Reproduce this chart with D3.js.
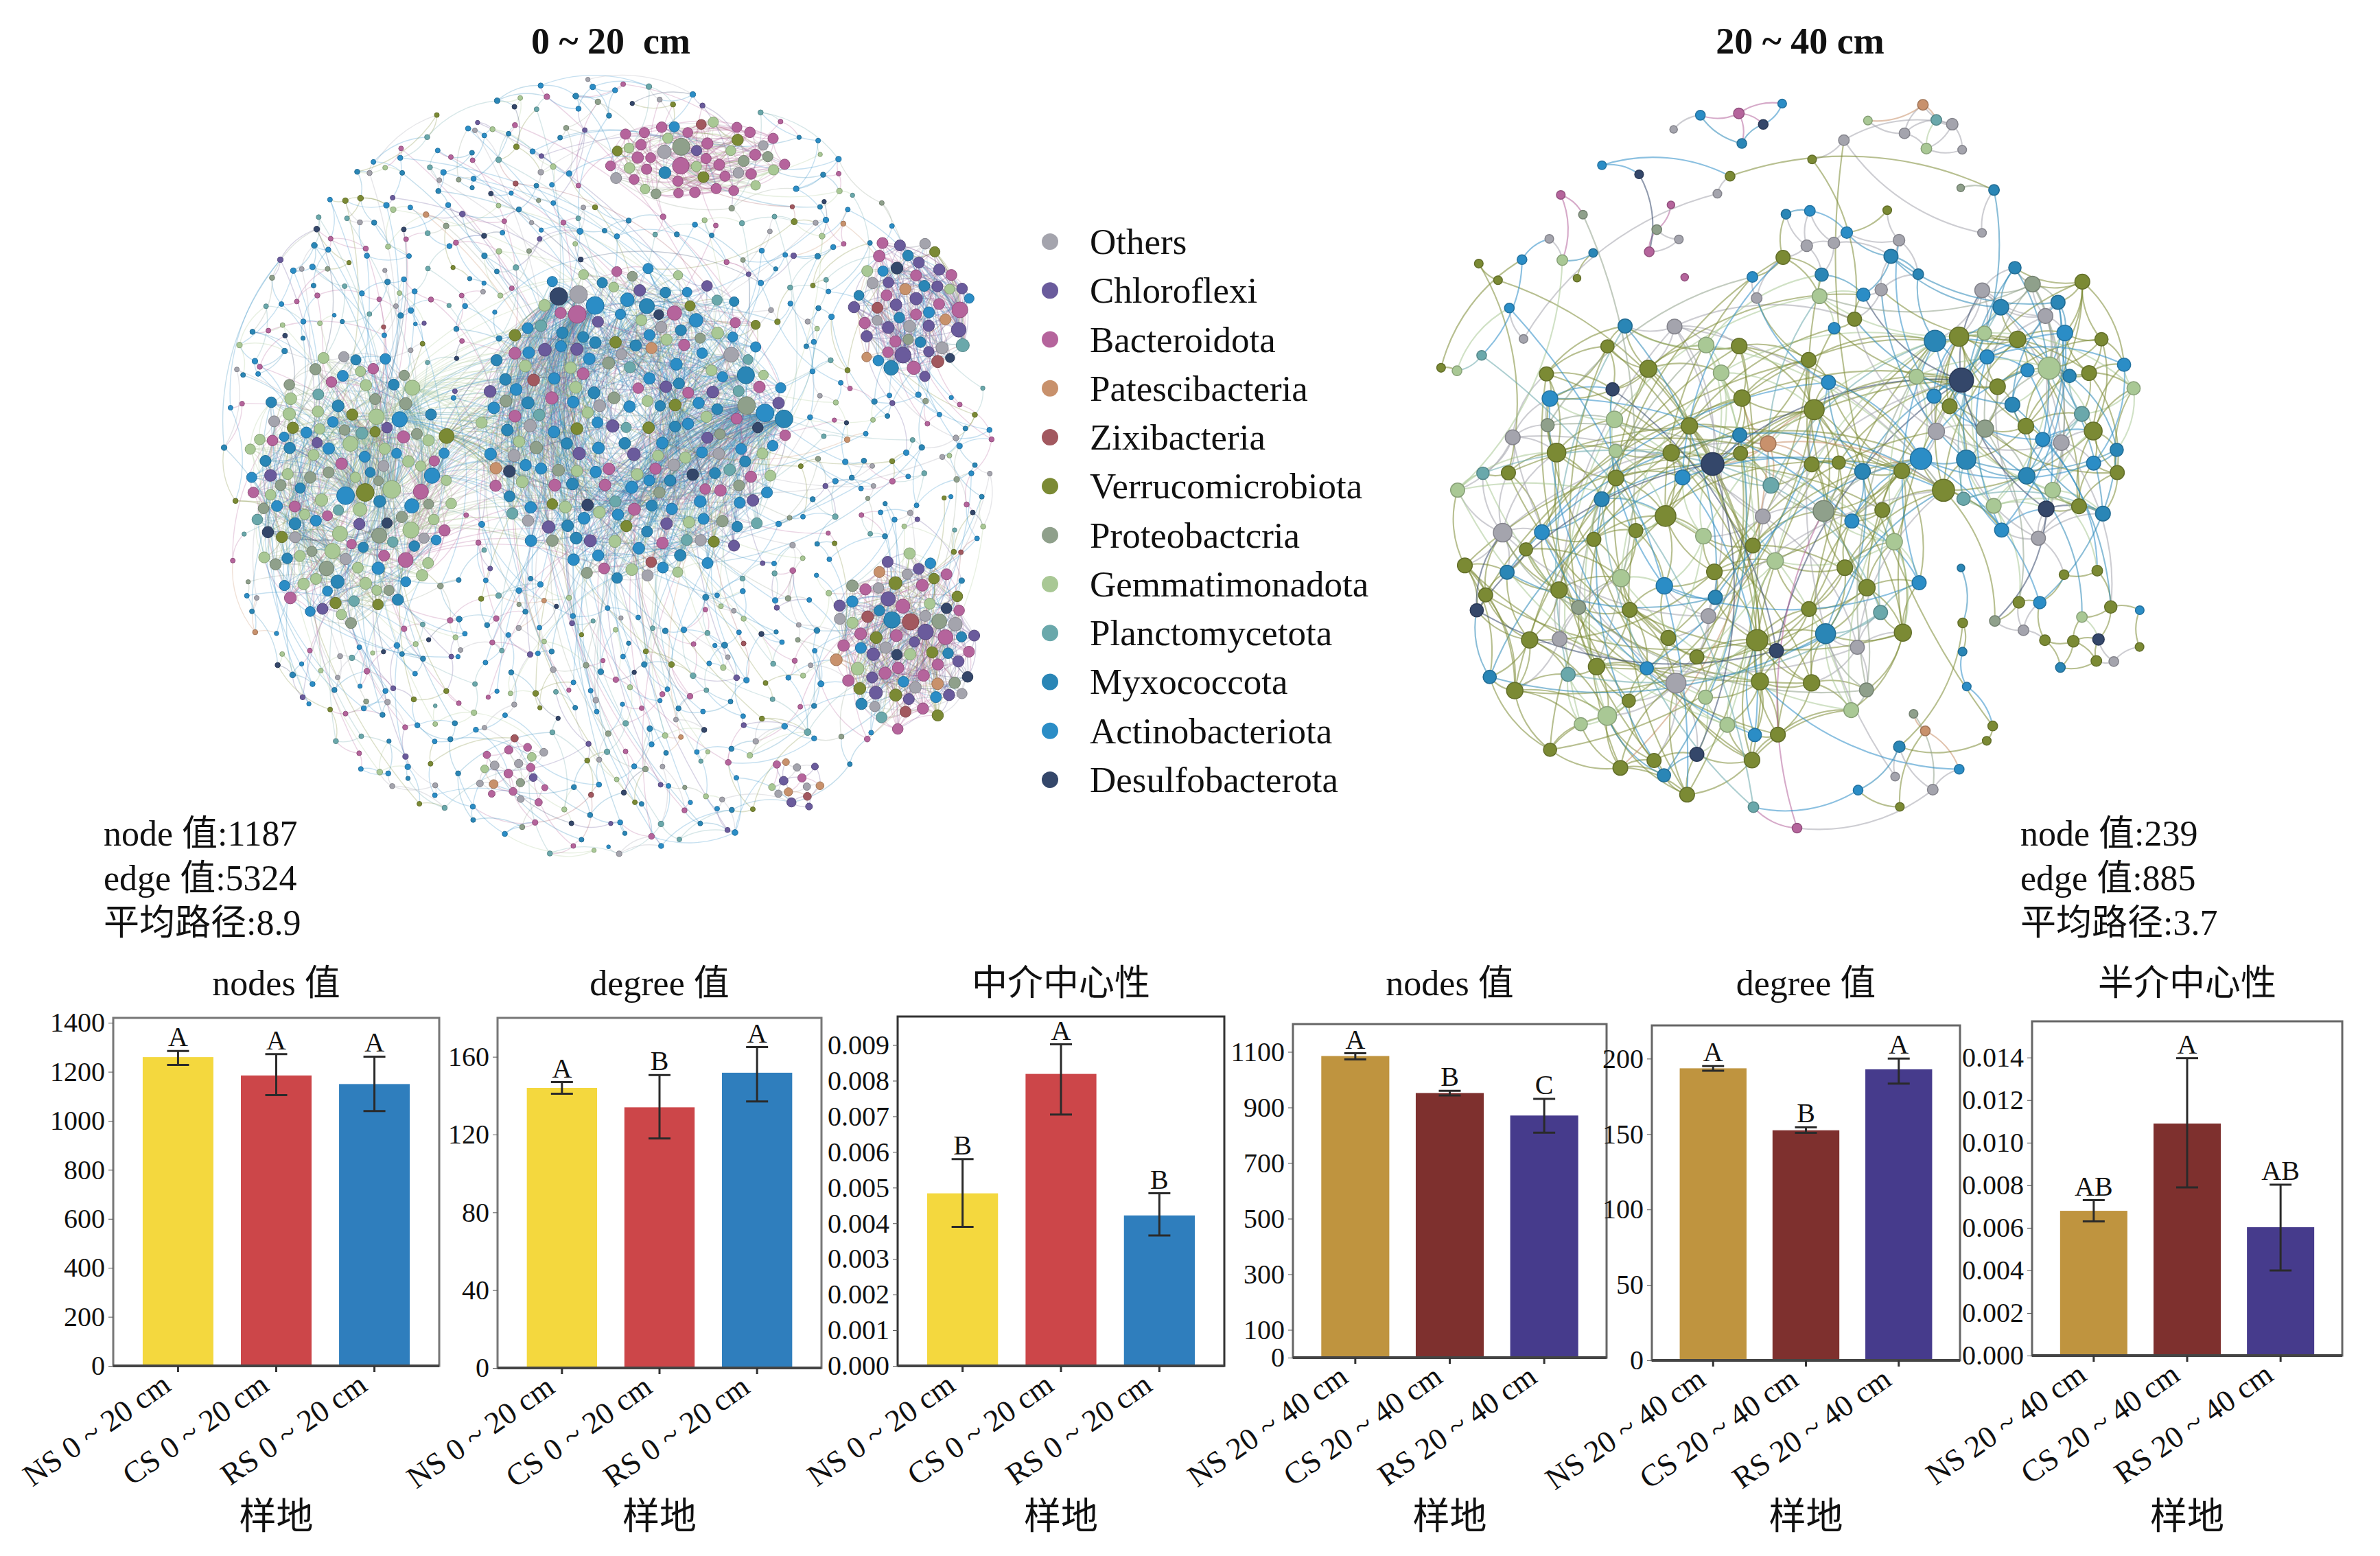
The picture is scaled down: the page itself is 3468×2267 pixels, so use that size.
<!DOCTYPE html>
<html lang="zh">
<head>
<meta charset="utf-8">
<title>0~20 cm / 20~40 cm co-occurrence networks</title>
<script src="https://cdn.jsdelivr.net/npm/d3@7/dist/d3.min.js"></script>
<style>
  html, body { margin: 0; padding: 0; background: #fff; }
  svg { display: block; }
  text { font-family: "Liberation Serif", "Noto Sans CJK SC", serif; fill: #111; }
</style>
</head>
<body>
<svg id="fig" width="3468" height="2267" viewBox="0 0 3468 2267"></svg>
<script>
// ---------------- data ----------------
const phyla = ["Others", "Chloroflexi", "Bacteroidota", "Patescibacteria", "Zixibacteria",
  "Verrucomicrobiota", "Proteobactcria", "Gemmatimonadota", "Planctomycetota",
  "Myxococcota", "Actinobacteriota", "Desulfobacterota"];

// network 0 ~ 20 cm : node counts per phylum (legend order) in each module
const statsTop = [1187, 5324, 8.9];
const modulesTop = ["M1", "M2", "M3", "M4", "M5", "M6", "M7", "other"];
const moduleCountsTop = [
  [6, 5, 15, 0, 0, 8, 20, 40, 6, 16, 22, 2],
  [12, 18, 26, 2, 2, 10, 14, 30, 12, 34, 54, 6],
  [4, 1, 26, 0, 1, 3, 4, 9, 0, 1, 1, 0],
  [5, 16, 12, 3, 2, 1, 1, 2, 1, 6, 4, 2],
  [9, 13, 17, 3, 3, 8, 3, 5, 1, 5, 5, 3],
  [5, 1, 9, 1, 1, 0, 1, 2, 0, 0, 0, 0],
  [3, 4, 2, 3, 1, 0, 0, 1, 0, 0, 0, 0],
  [50, 30, 70, 6, 6, 36, 28, 50, 60, 95, 160, 22]
];
const moduleEdgesTop = [950, 1600, 300, 380, 560, 40, 30];
const bridgesTop = [["M1", "M2", 150]];

// network 20 ~ 40 cm
const statsBottom = [239, 885, 3.7];
const modulesBottom = ["A", "B", "C", "D", "E", "F", "G", "other"];
const moduleCountsBottom = [
  [8, 0, 0, 1, 0, 46, 4, 14, 4, 9, 9, 5],
  [5, 0, 0, 0, 0, 12, 2, 6, 2, 10, 9, 2],
  [5, 0, 0, 0, 0, 3, 0, 1, 0, 4, 5, 0],
  [2, 0, 0, 0, 0, 8, 1, 1, 0, 1, 2, 1],
  [3, 0, 0, 1, 0, 0, 0, 2, 1, 0, 0, 0],
  [1, 0, 1, 0, 0, 0, 0, 0, 0, 1, 2, 1],
  [1, 0, 3, 0, 0, 0, 1, 0, 0, 0, 0, 0],
  [7, 0, 2, 1, 0, 10, 3, 2, 2, 5, 6, 1]
];
const moduleEdgesBottom = [450, 210, 36, 26, 12, 8, 4];
const bridgesBottom = [["A", "B", 45], ["A", "C", 14], ["B", "C", 12], ["B", "D", 12]];

// bar panels
const sites = ["NS", "CS", "RS"];
const depths = ["0 ~ 20 cm", "20 ~ 40 cm"];

const nodes020 = [1260, 1185, 1150];
const nodes020Err = [[1228, 1285], [1105, 1272], [1040, 1262]];
const nodes020Sig = ["A", "A", "A"];
const ticksNodes020 = [0, 200, 400, 600, 800, 1000, 1200, 1400];

const degree020 = [144, 134, 151.8];
const degree020Err = [[141, 147], [118, 150.6], [137, 165]];
const degree020Sig = ["A", "B", "A"];
const ticksDegree020 = [0, 40, 80, 120, 160];

const betw020 = [0.00484, 0.00819, 0.00422];
const betw020Err = [[0.0039, 0.0058], [0.00705, 0.00902], [0.00366, 0.00484]];
const betw020Sig = ["B", "A", "B"];
const ticksBetw020 = [0, 0.001, 0.002, 0.003, 0.004, 0.005, 0.006, 0.007, 0.008, 0.009];

const nodes2040 = [1085, 952, 871];
const nodes2040Err = [[1073, 1095], [943, 960], [809, 931]];
const nodes2040Sig = ["A", "B", "C"];
const ticksNodes2040 = [0, 100, 300, 500, 700, 900, 1100];

const degree2040 = [193.6, 152.5, 192.9];
const degree2040Err = [[192, 195], [150.8, 154.5], [183.4, 200]];
const degree2040Sig = ["A", "B", "A"];
const ticksDegree2040 = [0, 50, 100, 150, 200];

const betw2040 = [0.0068, 0.0109, 0.00603];
const betw2040Err = [[0.0063, 0.0073], [0.0079, 0.01397], [0.004, 0.00803]];
const betw2040Sig = ["AB", "A", "AB"];
const ticksBetw2040 = [0, 0.002, 0.004, 0.006, 0.008, 0.010, 0.012, 0.014];

// ---------------- styles / layout ----------------
const phylumColors = ["#a4a4ad", "#6a5b9c", "#b5649c", "#c8916c", "#a2585f", "#7b8a34",
  "#8fa08b", "#a9c895", "#6aa8ab", "#2a86b6", "#2b8dc6", "#34476a"];
const barColors = [["#f4d83e", "#cc4649", "#2f7ebd"], ["#bf943f", "#7e302e", "#463b8c"]];

// module ellipses [cx, cy, rx, ry] as fractions of the network radius
const shapesTop = {
  M1: [-0.647, 0.053, 0.27, 0.36], M2: [0.071, -0.107, 0.40, 0.42],
  M3: [0.217, -0.772, 0.245, 0.105], M4: [0.762, -0.398, 0.155, 0.186],
  M5: [0.747, 0.438, 0.186, 0.233], M6: [-0.228, 0.769, 0.107, 0.095],
  M7: [0.481, 0.795, 0.086, 0.069]
};
const shapesBottom = {
  A: [-0.267, 0.238, 0.656, 0.67], B: [0.642, -0.17, 0.33, 0.40],
  C: [0.124, -0.54, 0.25, 0.22], D: [0.76, 0.42, 0.22, 0.17],
  E: [0.349, -0.891, 0.167, 0.1], F: [-0.135, -0.916, 0.19, 0.09],
  G: [-0.3, -0.62, 0.1, 0.14]
};

const svg = d3.select("#fig");
svg.append("rect").attr("width", 3468).attr("height", 2267).attr("fill", "#fff");

// ---------------- network builder ----------------
function halton(i, b) {
  let f = 1, r = 0;
  while (i > 0) { f /= b; r += f * (i % b); i = Math.floor(i / b); }
  return r;
}

function buildNetwork(cfg) {
  const nodes = [], links = [], seen = new Set(), groups = {};
  const names = cfg.names, mods = names.filter(n => n !== "other");
  const X = u => cfg.cx + cfg.R * u, Y = v => cfg.cy + cfg.R * v;
  const dist = (a, b) => Math.hypot(nodes[a].hx - nodes[b].hx, nodes[a].hy - nodes[b].hy);
  const addLink = (a, b, local) => {
    if (a == null || b == null || a === b) return false;
    const key = Math.min(a, b) * 100000 + Math.max(a, b);
    if (seen.has(key)) return false;
    seen.add(key);
    links.push({ source: a, target: b, local: local, len: dist(a, b) });
    return true;
  };
  const ellDist = (u, v, n) => {
    const s = cfg.shapes[n];
    return Math.hypot((u - s[0]) / s[2], (v - s[1]) / s[3]);
  };
  const insideAny = (u, v) => mods.some(n => {
    const s = cfg.shapes[n];
    const dx = (u - s[0]) / (s[2] + cfg.margin), dy = (v - s[1]) / (s[3] + cfg.margin);
    return dx * dx + dy * dy < 1;
  });

  // place nodes
  names.forEach((name, m) => {
    const list = [];
    cfg.counts[m].forEach((c, p) => { for (let k = 0; k < c; k++) list.push(p); });
    const g = groups[name] = [];
    if (name !== "other") {
      const s = cfg.shapes[name];
      list.forEach((p, k) => {
        const j = k + 1 + (m + 1) * 257;
        const rr = Math.pow(halton(j, 2), cfg.rPow), th = 2 * Math.PI * halton(j, 3);
        g.push(nodes.push({ p: p, group: name,
          hx: X(s[0] + s[2] * rr * Math.cos(th)), hy: Y(s[1] + s[3] * rr * Math.sin(th)) }) - 1);
      });
    } else {
      for (let j = 5000, k = 0; k < list.length && j < 500000; j++) {
        const rr = Math.sqrt(halton(j, 2)) * cfg.outer, th = 2 * Math.PI * halton(j, 3);
        const u = rr * Math.cos(th), v = rr * Math.sin(th);
        if (insideAny(u, v)) continue;
        const home = mods.reduce((b, n) => ellDist(u, v, n) < ellDist(u, v, b) ? n : b, mods[0]);
        g.push(nodes.push({ p: list[k++], group: name, home: home, hx: X(u), hy: Y(v) }) - 1);
      }
    }
  });

  const tri = g => {
    const del = d3.Delaunay.from(g, i => nodes[i].hx, i => nodes[i].hy);
    const pairs = [];
    for (let a = 0; a < g.length; a++)
      for (const b of del.neighbors(a)) if (a < b) pairs.push([a, b, dist(g[a], g[b])]);
    pairs.sort((u, v) => u[2] - v[2]);
    return { del: del, pairs: pairs };
  };

  // edges inside modules: neighbours, then alternately to nearby hubs and across the module
  mods.forEach(name => {
    const m = names.indexOf(name), e = cfg.edges[m], g = groups[name];
    const pairs = tri(g).pairs;
    const med = pairs.length ? pairs[pairs.length >> 1][2] : 0;
    let cnt = 0;
    for (const [a, b, d] of pairs) {
      if (cnt >= e || d > med * 2.6) break;
      if (addLink(g[a], g[b], true)) cnt++;
    }
    const hubs = g.filter((_, k) => k % cfg.hubEvery === 0);
    const near = g.map(a => hubs.slice().sort((h1, h2) => dist(a, h1) - dist(a, h2)));
    for (let round = 0; cnt < e && round < 80; round++)
      for (let t = 0; t < g.length && cnt < e; t++) {
        const b = round % 2 === 0
          ? near[t][Math.min(round >> 1, hubs.length - 1)]
          : g[(t + 1 + 5 * (round >> 1)) % g.length];
        if (addLink(g[t], b, false)) cnt++;
      }
  });

  // edges between modules
  cfg.bridges.forEach(([ma, mb, e]) => {
    const sa = cfg.shapes[ma], sb = cfg.shapes[mb];
    const toward = (list, s) => list.slice().sort((a, b) =>
      Math.hypot(nodes[a].hx - X(s[0]), nodes[a].hy - Y(s[1])) -
      Math.hypot(nodes[b].hx - X(s[0]), nodes[b].hy - Y(s[1])));
    const ga = toward(groups[ma], sb), gb = toward(groups[mb], sa);
    const na = Math.min(ga.length, Math.max(3, Math.round(ga.length * 0.45)));
    const nb = Math.min(gb.length, Math.max(3, Math.round(gb.length * 0.45)));
    let cnt = 0;
    for (let k = 0; cnt < e && k < e * 40; k++)
      if (addLink(ga[(k * 7) % na], gb[(k * 11 + Math.floor(k / nb)) % nb], false)) cnt++;
  });

  // small components and loose nodes
  {
    const g = groups.other, e = cfg.total - links.length;
    const del = tri(g).del;
    const deg = new Array(g.length).fill(0);
    let cnt = 0;
    const link = (a, b) => { if (addLink(g[a], g[b], true)) { cnt++; deg[a]++; deg[b]++; } };
    for (let a = 0; a < g.length && cnt < e; a++) {
      if (deg[a] > 0) continue;
      const nb = Array.from(del.neighbors(a)).sort((u, v) => dist(g[a], g[u]) - dist(g[a], g[v]));
      let b = nb.find(u => deg[u] === 0);
      if (b == null) b = nb.find(u => deg[u] < 3);
      if (b != null) link(a, b);
    }
    for (let round = 0; cnt < e && round < 60; round++) {
      for (let a = 0; a < g.length && cnt < e; a++) {
        if ((a + round) % 3 !== 2) {
          const nb = Array.from(del.neighbors(a));
          if (!nb.length) continue;
          const b1 = nb[(a + round) % nb.length];
          const nb2 = Array.from(del.neighbors(b1));
          if (!nb2.length) continue;
          link(a, nb2[(a * 3 + round) % nb2.length]);
        } else {
          const gm = groups[nodes[g[a]].home];
          if (addLink(g[a], gm[(a * 7 + round * 13) % gm.length], false)) { cnt++; deg[a]++; }
        }
      }
    }
  }

  // sizes from degree, then relax with d3-force
  links.forEach(l => {
    nodes[l.source].deg = (nodes[l.source].deg || 0) + 1;
    nodes[l.target].deg = (nodes[l.target].deg || 0) + 1;
  });
  const rs = d3.scalePow().exponent(cfg.rExp).domain(cfg.rDomain).range(cfg.rRange).clamp(true);
  nodes.forEach(d => {
    d.r = rs(d.deg || 1) * (d.group === "other" ? cfg.otherScale : 1);
    d.x = d.hx; d.y = d.hy;
  });
  const sim = d3.forceSimulation(nodes)
    .force("link", d3.forceLink(links).distance(l => l.len * 0.85).strength(l => l.local ? 0.08 : 0.002))
    .force("hx", d3.forceX(d => d.hx).strength(0.07))
    .force("hy", d3.forceY(d => d.hy).strength(0.07))
    .force("collide", d3.forceCollide(d => d.r + cfg.gap).strength(0.8).iterations(2))
    .stop();
  for (let i = 0; i < 180; i++) sim.tick();
  return { nodes: nodes, links: links };
}

function arcPath(l) {
  const s = l.source, t = l.target;
  const dr = Math.hypot(t.x - s.x, t.y - s.y) * 1.3;
  return "M" + s.x + "," + s.y + "A" + dr + "," + dr + " 0 0,1 " + t.x + "," + t.y;
}

function drawNetwork(net, opt) {
  const g = svg.append("g");
  g.append("g").attr("fill", "none")
    .selectAll("path").data(net.links).join("path")
    .attr("d", arcPath)
    .attr("stroke", l => phylumColors[l.source.p])
    .attr("stroke-opacity", opt.edgeOpacity)
    .attr("stroke-width", opt.edgeWidth);
  g.append("g")
    .selectAll("circle").data(net.nodes.slice().sort((a, b) => a.r - b.r)).join("circle")
    .attr("cx", d => d.x).attr("cy", d => d.y).attr("r", d => d.r)
    .attr("fill", d => phylumColors[d.p])
    .attr("stroke", d => d3.color(phylumColors[d.p]).darker(0.6))
    .attr("stroke-width", opt.nodeStroke);
}

const netTop = buildNetwork({
  names: modulesTop, counts: moduleCountsTop, edges: moduleEdgesTop, bridges: bridgesTop,
  total: statsTop[1], shapes: shapesTop, cx: 884, cy: 680, R: 580, margin: 0.035,
  outer: 0.985, rPow: 0.5, hubEvery: 6, rExp: 0.6, rDomain: [1, 40], rRange: [4, 13],
  otherScale: 0.7, gap: 1.5
});
drawNetwork(netTop, { edgeOpacity: 0.27, edgeWidth: 1.4, nodeStroke: 1 });

const netBottom = buildNetwork({
  names: modulesBottom, counts: moduleCountsBottom, edges: moduleEdgesBottom, bridges: bridgesBottom,
  total: statsBottom[1], shapes: shapesBottom, cx: 2602, cy: 680, R: 550, margin: 0.05,
  outer: 0.98, rPow: 0.5, hubEvery: 7, rExp: 0.8, rDomain: [1, 24], rRange: [5.5, 18.5],
  otherScale: 1, gap: 3
});
drawNetwork(netBottom, { edgeOpacity: 0.55, edgeWidth: 2.1, nodeStroke: 1.5 });

// ---------------- network titles, stats, legend ----------------
svg.append("text").attr("x", 890).attr("y", 78).attr("text-anchor", "middle")
  .attr("font-size", 54).attr("font-weight", "bold").style("white-space", "pre").text("0 ~ 20  cm");
svg.append("text").attr("x", 2623).attr("y", 78).attr("text-anchor", "middle")
  .attr("font-size", 54).attr("font-weight", "bold").style("white-space", "pre").text("20 ~ 40 cm");

function drawStats(x, stats) {
  const lines = ["node 值:" + stats[0], "edge 值:" + stats[1], "平均路径:" + stats[2]];
  svg.append("g").selectAll("text").data(lines).join("text")
    .attr("x", x).attr("y", (d, i) => 1232 + i * 65)
    .attr("font-size", 52).text(d => d);
}
drawStats(151, statsTop);
drawStats(2944, statsBottom);

const ly = d3.scalePoint().domain(phyla).range([352, 1136]);
const legend = svg.append("g");
legend.selectAll("circle").data(phyla).join("circle")
  .attr("cx", 1530).attr("cy", d => ly(d)).attr("r", 12)
  .attr("fill", (d, i) => phylumColors[i]);
legend.selectAll("text").data(phyla).join("text")
  .attr("x", 1588).attr("y", d => ly(d) + 18).attr("font-size", 53).text(d => d);

// ---------------- bar panels ----------------
const panels = [
  { title: "nodes 值", depth: 0, vals: nodes020, err: nodes020Err, sig: nodes020Sig,
    ticks: ticksNodes020, fmt: "d", max: 1420, box: [165, 640, 1483, 1990], stroke: "#777" },
  { title: "degree 值", depth: 0, vals: degree020, err: degree020Err, sig: degree020Sig,
    ticks: ticksDegree020, fmt: "d", max: 180, box: [725, 1197, 1483, 1993], stroke: "#777" },
  { title: "中介中心性", depth: 0, vals: betw020, err: betw020Err, sig: betw020Sig,
    ticks: ticksBetw020, fmt: ".3f", max: 0.0098, box: [1308, 1784, 1481, 1990], stroke: "#333" },
  { title: "nodes 值", depth: 1, vals: nodes2040, err: nodes2040Err, sig: nodes2040Sig,
    ticks: ticksNodes2040, fmt: "d", max: 1200, box: [1884, 2341, 1492, 1978], stroke: "#666" },
  { title: "degree 值", depth: 1, vals: degree2040, err: degree2040Err, sig: degree2040Sig,
    ticks: ticksDegree2040, fmt: "d", max: 222, box: [2407, 2856, 1494, 1982], stroke: "#666" },
  { title: "半介中心性", depth: 1, vals: betw2040, err: betw2040Err, sig: betw2040Sig,
    ticks: ticksBetw2040, fmt: ".3f", max: 0.0157, box: [2961, 3413, 1488, 1975], stroke: "#666" }
];

panels.forEach(pn => {
  const [x0, x1, y0, y1] = pn.box;
  const g = svg.append("g");
  const x = d3.scaleBand().domain(sites).range([x0, x1]).paddingInner(0.28).paddingOuter(0.3);
  const y = d3.scaleLinear().domain([0, pn.max]).range([y1, y0]);
  const rows = sites.map((s, i) => ({ s: s, v: pn.vals[i], lo: pn.err[i][0], hi: pn.err[i][1],
    sig: pn.sig[i], c: barColors[pn.depth][i] }));
  const cx = d => x(d.s) + x.bandwidth() / 2;

  g.append("rect").attr("x", x0).attr("y", y0).attr("width", x1 - x0).attr("height", y1 - y0)
    .attr("fill", "#fff").attr("stroke", pn.stroke).attr("stroke-width", 3);

  g.selectAll(".bar").data(rows).join("rect").attr("class", "bar")
    .attr("x", d => x(d.s)).attr("y", d => y(d.v))
    .attr("width", x.bandwidth()).attr("height", d => y(0) - y(d.v))
    .attr("fill", d => d.c);

  g.append("line").attr("x1", x0).attr("x2", x1).attr("y1", y1).attr("y2", y1)
    .attr("stroke", "#444").attr("stroke-width", 4);

  const eb = g.append("g").attr("stroke", "#2a2a2a").attr("stroke-width", 3);
  eb.selectAll(".v").data(rows).join("line").attr("class", "v")
    .attr("x1", cx).attr("x2", cx).attr("y1", d => y(d.lo)).attr("y2", d => y(d.hi));
  eb.selectAll(".cap").data(rows.flatMap(d => [[d, d.lo], [d, d.hi]])).join("line").attr("class", "cap")
    .attr("x1", e => cx(e[0]) - 16).attr("x2", e => cx(e[0]) + 16)
    .attr("y1", e => y(e[1])).attr("y2", e => y(e[1]));

  g.selectAll(".sig").data(rows).join("text").attr("class", "sig")
    .attr("x", cx).attr("y", d => y(d.hi) - 7)
    .attr("text-anchor", "middle").attr("font-size", 40).text(d => d.sig);

  const ya = g.append("g").attr("transform", "translate(" + x0 + ",0)")
    .call(d3.axisLeft(y).tickValues(pn.ticks).tickFormat(d3.format(pn.fmt)).tickSize(7).tickPadding(5));
  ya.select(".domain").remove();
  ya.attr("font-size", 40).attr("font-family", null).attr("color", "#555");

  const xa = g.append("g").attr("transform", "translate(0," + y1 + ")")
    .call(d3.axisBottom(x).tickSize(9).tickFormat(""));
  xa.select(".domain").remove();
  xa.attr("color", "#333");
  xa.selectAll("line").attr("stroke-width", 3);

  g.selectAll(".xl").data(rows).join("text").attr("class", "xl")
    .attr("transform", d => "translate(" + (cx(d) - 8) + "," + (y1 + 34) + ") rotate(-35)")
    .attr("text-anchor", "end").attr("font-size", 45)
    .text(d => d.s + " " + depths[pn.depth]);

  g.append("text").attr("x", (x0 + x1) / 2).attr("y", 1450).attr("text-anchor", "middle")
    .attr("font-size", 52).text(pn.title);
  g.append("text").attr("x", (x0 + x1) / 2).attr("y", 2228).attr("text-anchor", "middle")
    .attr("font-size", 54).text("样地");
});
</script>
</body>
</html>
